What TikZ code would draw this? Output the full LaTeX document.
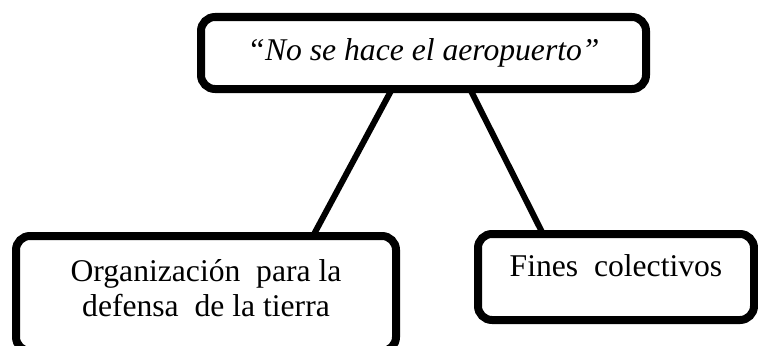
\documentclass[tikz,border=0pt]{standalone}
\usepackage{fontspec}
\setmainfont{Liberation Serif}
\tikzset{
  cbox/.style={draw, line width=0.16cm, rounded corners=0.28cm, inner sep=0pt, outer sep=0pt, anchor=north west},
  link/.style={line width=0.12cm}
}
\begin{document}
\begin{tikzpicture}
    \useasboundingbox (0,0) rectangle (15.16,-6.9);
    % Top box
    \node[cbox] (aero) at (4.02,-0.34) {%
      \begin{minipage}[t][1.44cm][c]{8.9cm}
        \centering\fontsize{18}{19.5}\selectfont\itshape
        “No se hace el aeropuerto”
      \end{minipage}%
    };
    % Left box
    \node[cbox] (org) at (0.32,-4.72) {%
      \begin{minipage}[t][2.3cm][t]{7.6cm}
        \centering\fontsize{18}{19.5}\selectfont
        \vspace*{0.48cm}
        Organización \ para la\\
        defensa \ de la tierra
      \end{minipage}%
    };
    % Right box
    \node[cbox] (fines) at (9.56,-4.68) {%
      \begin{minipage}[t][1.72cm][t]{5.52cm}
        \centering\fontsize{18}{19.5}\selectfont
        \vspace*{0.42cm}
        Fines \ colectivos
      \end{minipage}%
    };
    % Connectors
    \draw[link] ([xshift=-0.63cm]aero.south) -- ([xshift=2.14cm]org.north);
    \draw[link] ([xshift=0.93cm]aero.south) -- ([xshift=-1.46cm]fines.north);
  \end{tikzpicture}
\end{document}
